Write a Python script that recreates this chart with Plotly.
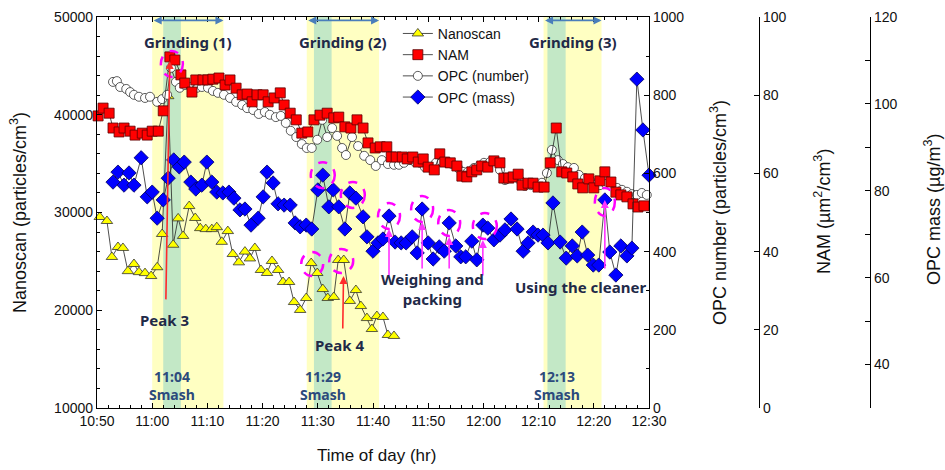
import plotly.graph_objects as go
import pandas as pd

BASE = pd.Timestamp("2024-01-01 10:50:00")

# ---------------- data (minutes after 10:50, values) ----------------
nano_min = [0.5, 1.8, 2.7, 3.8, 4.7, 5.6, 6.7, 7.6, 8.7, 9.8,
            10.9, 11.8, 12.9, 13.8, 14.7, 15.6, 16.7, 17.8, 18.7, 19.7,
            20.8, 21.7, 22.6, 23.7, 24.6, 25.7, 26.8, 27.7, 28.6, 29.7,
            30.8, 31.7, 32.8, 33.7, 34.8, 35.7, 36.8, 37.9, 38.8, 39.9,
            40.9, 41.8, 42.9, 43.7, 44.7, 45.8, 46.9, 47.8, 48.9, 49.8,
            50.7, 51.8, 52.7, 53.8]
nano_val = [29540, 29130, 25450, 26470, 26370, 24000, 24730, 23900, 23800, 23500,
            24400, 27800, 41900, 26700, 29400, 27600, 30660, 29440, 28400, 28300,
            28300, 28500, 27000, 28100, 25750, 24900, 26000, 25300, 26370, 24120,
            23810, 25040, 24120, 22890, 22890, 20840, 20030, 21250, 24830, 23810,
            22170, 21250, 21360, 25140, 25140, 20950, 22070, 20430, 19200, 18080,
            19410, 19310, 17470, 17370]

nam_min = [0.2, 1.1, 2.2, 2.9, 4.0, 4.9, 6.0, 6.9, 8.2, 9.1,
           10.0, 11.1, 12.0, 13.2, 14.1, 15.2, 15.9, 17.2, 17.9, 19.2,
           20.1, 21.0, 22.1, 23.2, 24.1, 25.2, 26.3, 27.2, 28.1, 29.0,
           30.1, 31.0, 32.1, 33.2, 33.9, 35.0, 36.1, 37.1, 38.2, 39.3,
           40.4, 41.7, 42.9, 43.8, 44.9, 46.0, 47.1, 48.2, 49.1, 50.4,
           51.3, 52.5, 53.3, 54.2, 55.3, 56.2, 57.2, 58.2, 59.1, 60.0,
           61.1, 62.1, 63.0, 64.0, 65.2, 66.1, 67.0, 67.9, 68.8, 69.7,
           70.8, 71.9, 73.0, 73.7, 74.6, 75.4, 76.3, 77.0, 78.1, 79.0,
           79.9, 81.0, 82.1, 83.2, 84.2, 85.1, 86.2, 87.1, 88.0, 89.1,
           90.0, 91.1, 92.0, 93.1, 94.0, 94.9, 96.0, 97.1, 98.0, 99.1]
nam_val = [74.7, 76.7, 75.4, 71.6, 70.6, 71.6, 70.8, 69.8, 70.3, 69.8,
           70.8, 70.8, 76.0, 89.8, 89.0, 85.2, 83.1, 80.8, 83.9, 83.9,
           83.9, 84.1, 84.4, 82.6, 83.9, 81.8, 80.1, 80.3, 78.3, 80.1,
           80.1, 78.3, 79.3, 80.6, 77.5, 75.4, 73.7, 70.3, 70.6, 73.7,
           74.9, 75.4, 74.2, 74.4, 71.9, 71.6, 73.7, 71.6, 67.8, 66.5,
           66.8, 66.8, 64.2, 64.2, 64.2, 63.7, 64.2, 62.9, 63.7, 61.6,
           60.9, 65.0, 62.9, 62.7, 61.9, 59.3, 59.1, 60.4, 60.9, 61.9,
           61.6, 63.2, 62.7, 58.8, 58.8, 59.1, 59.8, 57.0, 57.5, 57.5,
           56.5, 56.5, 62.7, 71.6, 60.4, 60.1, 59.1, 57.3, 56.3, 58.6,
           56.3, 58.1, 60.4, 57.8, 55.2, 54.5, 54.0, 52.2, 51.4, 51.7]

opcn_min = [2.9, 3.6, 4.2, 5.3, 6.0, 6.7, 7.6, 8.7, 9.6, 10.9,
            11.8, 12.7, 13.4, 14.3, 15.0, 15.9, 17.0, 18.1, 19.0, 20.1,
            21.0, 21.9, 23.0, 24.1, 25.2, 26.3, 27.2, 28.3, 29.3, 30.4,
            31.3, 32.4, 33.3, 34.2, 35.1, 36.1, 37.1, 38.0, 38.9, 39.9,
            40.8, 41.7, 42.6, 43.5, 44.4, 45.1, 46.2, 47.3, 48.4, 49.5,
            50.5, 51.6, 52.7, 53.8, 54.7, 55.6, 56.7, 57.6, 58.5, 59.4,
            60.5, 61.4, 62.5, 63.4, 64.3, 65.4, 66.3, 67.2, 68.3, 69.2,
            70.1, 71.2, 72.1, 73.0, 73.9, 74.8, 75.7, 76.6, 77.5, 78.6,
            79.5, 80.6, 81.5, 82.4, 83.5, 84.4, 85.3, 86.4, 87.3, 88.4,
            89.3, 90.2, 91.1, 92.2, 93.1, 94.2, 95.1, 96.0, 96.9, 97.8,
            98.7, 99.6]
opcn_val = [834, 836, 821, 816, 808, 801, 796, 793, 796, 783,
            790, 801, 870, 834, 819, 826, 821, 819, 821, 819,
            811, 806, 801, 793, 783, 775, 767, 762, 752, 757,
            750, 744, 747, 729, 709, 693, 675, 665, 665, 686,
            737, 693, 716, 696, 665, 647, 693, 670, 645, 634,
            619, 634, 624, 622, 622, 627, 634, 629, 627, 616,
            614, 627, 629, 627, 624, 614, 604, 604, 614, 619,
            627, 629, 632, 609, 583, 588, 591, 583, 568, 570,
            570, 576, 601, 660, 634, 624, 616, 614, 596, 588,
            583, 570, 570, 573, 570, 563, 558, 553, 547, 545,
            550, 545]

opcm_min = [2.9, 3.8, 4.9, 5.8, 6.7, 8.0, 9.1, 10.0, 10.9, 12.0,
            12.9, 13.9, 14.9, 15.8, 17.0, 17.9, 19.0, 19.9, 20.8, 21.7,
            22.8, 23.9, 24.8, 25.9, 26.8, 27.9, 29.2, 30.1, 30.8, 31.9,
            32.8, 33.9, 35.0, 35.9, 36.8, 37.9, 38.9, 40.0, 40.9, 42.0,
            42.8, 43.8, 44.9, 45.8, 46.9, 48.2, 48.9, 50.0, 50.9, 51.8,
            52.9, 54.0, 55.1, 56.0, 57.1, 58.0, 58.9, 60.0, 60.9, 62.0,
            62.9, 63.8, 65.0, 65.9, 66.8, 67.9, 68.8, 69.9, 70.8, 71.9,
            73.0, 73.9, 75.0, 76.1, 77.2, 78.1, 79.0, 79.9, 80.8, 81.7,
            82.6, 83.9, 85.0, 86.1, 87.0, 87.9, 88.9, 89.9, 90.9, 92.0,
            92.9, 94.0, 94.9, 96.0, 96.9, 97.8, 98.9, 100.0]
opcm_val = [82.0, 84.3, 81.3, 84.1, 81.3, 87.6, 78.6, 79.7, 73.7, 77.9,
            82.9, 87.1, 85.5, 86.6, 82.0, 80.4, 81.3, 86.6, 82.0, 79.7,
            79.5, 79.7, 78.3, 75.6, 75.8, 72.1, 73.7, 78.6, 84.3, 81.8,
            77.0, 76.7, 76.7, 72.6, 71.7, 72.1, 71.2, 80.2, 83.6, 76.3,
            80.2, 76.3, 71.2, 79.5, 78.3, 74.0, 69.4, 66.1, 68.0, 68.9,
            74.2, 68.2, 68.0, 68.0, 69.4, 65.7, 75.8, 68.0, 64.3, 67.1,
            66.1, 72.6, 67.3, 64.8, 64.8, 68.4, 64.1, 72.1, 71.4, 68.7,
            69.8, 71.0, 73.5, 71.2, 66.1, 68.0, 70.5, 69.8, 69.8, 68.0,
            77.2, 68.2, 64.5, 67.3, 65.0, 70.5, 65.2, 62.9, 62.9, 77.9,
            65.9, 60.6, 67.3, 65.0, 66.8, 105.7, 94.0, 83.6]

# event periods (minutes after 10:50)
grind_start = [10.0, 38.0, 80.9]
grind_end = [22.9, 51.1, 91.4]
smash_start = [12.0, 39.3, 81.6]
smash_end = [15.2, 42.5, 84.9]
grind_labels = ["Grinding (1)", "Grinding (2)", "Grinding (3)"]
smash_times = ["11:04", "11:29", "12:13"]

x_ticks_min = [0, 10, 20, 30, 40, 50, 60, 70, 80, 90, 100]


def ts(m):
    return (BASE + pd.Timedelta(minutes=m)).round("s").strftime("%Y-%m-%d %H:%M:%S")


def tl(ms):
    return [ts(m) for m in ms]


TEXT = "#1f2a48"
SMASH = "#2c4a7c"
AX_FONT = "Liberation Sans, Arial, sans-serif"
ANN_FONT = "Noto Sans, DejaVu Sans, sans-serif"
LINE = dict(color="#222222", width=0.8)

fig = go.Figure()
fig.add_trace(go.Scatter(
    x=tl(nano_min), y=nano_val, name="Nanoscan", yaxis="y", mode="lines+markers",
    line=LINE, cliponaxis=False, legendrank=1,
    marker=dict(symbol="triangle-up", size=10, color="#ffff00", line=dict(color="#333333", width=0.8))))
fig.add_trace(go.Scatter(
    x=tl(opcn_min), y=opcn_val, name="OPC (number)", yaxis="y2", mode="lines+markers",
    line=LINE, cliponaxis=False, legendrank=3,
    marker=dict(symbol="circle", size=9, color="white", line=dict(color="#333333", width=0.8))))
fig.add_trace(go.Scatter(
    x=tl(nam_min), y=nam_val, name="NAM", yaxis="y3", mode="lines+markers",
    line=LINE, cliponaxis=False, legendrank=2,
    marker=dict(symbol="square", size=10, color="#ff0000", line=dict(color="#5a0000", width=0.8))))
fig.add_trace(go.Scatter(
    x=tl(opcm_min), y=opcm_val, name="OPC (mass)", yaxis="y4", mode="lines+markers",
    line=LINE, cliponaxis=False, legendrank=4,
    marker=dict(symbol="diamond", size=11, color="#0000ff", line=dict(color="#000060", width=0.8))))

shapes = []
annotations = []

# shaded periods
for g0, g1, s0, s1 in zip(grind_start, grind_end, smash_start, smash_end):
    shapes.append(dict(type="rect", xref="x", yref="y domain", x0=ts(g0), x1=ts(g1), y0=0, y1=1,
                       fillcolor="#ffffc2", line=dict(width=0), layer="below"))
    shapes.append(dict(type="rect", xref="x", yref="y domain", x0=ts(s0), x1=ts(s1), y0=0, y1=1,
                       fillcolor="#c3e8c6", line=dict(width=0), layer="below"))


def label(x, y, text, size=15, color=TEXT, xref="x"):
    return dict(x=x, y=y, xref=xref, yref="paper", text=text, showarrow=False,
                xanchor="center", yanchor="middle",
                font=dict(family=ANN_FONT, size=size, color=color))


# grinding arrows and labels
for g0, g1, lab in zip(grind_start, grind_end, grind_labels):
    annotations.append(dict(x=ts(g1), y=49650, xref="x", yref="y", ax=ts(g0), ay=49650,
                            axref="x", ayref="y", showarrow=True, arrowhead=2, arrowside="end+start",
                            arrowsize=1, arrowwidth=1.6, arrowcolor="#4a7ebb", text=""))
    annotations.append(label(ts((g0 + g1) / 2), 1 - 42 / 470, "<b>" + lab + "</b>"))

for s0, s1, lab in zip(smash_start, smash_end, smash_times):
    annotations.append(label(ts((s0 + s1) / 2), 1 - 385 / 470, "<b>" + lab + "<br>Smash</b>",
                             size=14, color=SMASH))

# magenta dashed circles around highlighted points
series = {"nano": (nano_min, nano_val, "y"), "nam": (nam_min, nam_val, "y3"),
          "mass": (opcm_min, opcm_val, "y4")}
circles = [("nam", 13, 2, -7, 11, 13), ("nano", 38, 1, -1, 11, 12), ("nano", 43, 3, -1, 12, 12),
           ("mass", 38, 0, 0, 12, 13), ("mass", 43, 3, -2, 12, 13), ("mass", 50, 0, 0, 11, 13),
           ("mass", 56, 0, 0, 11, 13), ("mass", 61, 0, 0, 11, 13), ("mass", 67, 2, -1, 12, 13),
           ("mass", 89, 0, -2, 10, 14)]
for key, i, dx, dy, rx, ry in circles:
    ms, vs, ax_id = series[key]
    shapes.append(dict(type="circle", xref="x", yref=ax_id, xsizemode="pixel", ysizemode="pixel",
                       xanchor=ts(ms[i]), yanchor=vs[i], x0=dx - rx, x1=dx + rx, y0=dy - ry, y1=dy + ry,
                       line=dict(color="#ff00ff", width=2.5, dash="dash")))

# magenta arrows (weighing / cleaner)
for i, tail, so in [(50, 61, 13), (56, 61, 13), (61, 47, 14), (67, 52, 15), (89, 70, 0)]:
    annotations.append(dict(x=ts(opcm_min[i]), y=opcm_val[i], xref="x", yref="y4", ax=0, ay=tail,
                            showarrow=True, arrowhead=2, arrowsize=1, arrowwidth=1.6, standoff=so,
                            arrowcolor="#ff33ff", text=""))

# red arrows for peaks
annotations.append(dict(x=ts(nam_min[13]), y=nam_val[13], xref="x", yref="y3", ax=-4, ay=244,
                        showarrow=True, arrowhead=2, arrowsize=1, arrowwidth=1.6, standoff=4,
                        arrowcolor="#ff2a2a", text=""))
annotations.append(dict(x=ts(nano_min[44]), y=nano_val[44], xref="x", yref="y", ax=-1, ay=70,
                        showarrow=True, arrowhead=2, arrowsize=1, arrowwidth=1.6, standoff=16,
                        arrowcolor="#ff2a2a", text=""))

# text labels
annotations += [
    label(ts(12.3), 1 - 320 / 470, "<b>Peak 3</b>"),
    label(ts(44.0), 1 - 345 / 470, "<b>Peak 4</b>"),
    label(ts(60.7), 1 - 289 / 470, "<b>Weighing and<br>packing</b>"),
    label(ts(87.5), 1 - 287 / 470, "<b>Using the cleaner</b>"),
]


def title(x, y, text, angle=-90, size=18):
    return dict(x=x / 945, y=1 - y / 470, xref="paper", yref="paper", text=text, textangle=angle,
                showarrow=False, xanchor="center", yanchor="middle",
                font=dict(family=AX_FONT, size=size, color="#111111"))


annotations += [
    title(18, 213, "Nanoscan (particles/cm<sup>3</sup>)"),
    title(718, 213, "OPC number (particles/cm<sup>3</sup>)"),
    title(822, 212, "NAM (µm<sup>2</sup>/cm<sup>3</sup>)"),
    title(932, 210, "OPC mass (µg/m<sup>3</sup>)"),
    title(376, 455, "Time of day (hr)", angle=0, size=17),
]

TICKF = dict(family=AX_FONT, size=14, color="#111111")
common_y = dict(showline=True, linecolor="black", linewidth=1.3, ticks="inside", ticklen=5,
                tickcolor="black", tickwidth=1, showgrid=False, zeroline=False, tickfont=TICKF,
                automargin=False)

fig.update_layout(
    width=945, height=470,
    margin=dict(l=0, r=0, t=0, b=0, autoexpand=False),
    paper_bgcolor="white", plot_bgcolor="rgba(0,0,0,0)",
    showlegend=True,
    legend=dict(x=0.421, y=0.962, xanchor="left", yanchor="top", bgcolor="rgba(0,0,0,0)",
                font=dict(family=AX_FONT, size=14, color="#111111"), tracegroupgap=0),
    xaxis=dict(domain=[97 / 945, 649 / 945], type="date", automargin=False,
               range=[ts(x_ticks_min[0]), ts(x_ticks_min[-1])],
               tickvals=tl(x_ticks_min), tickformat="%H:%M",
               showline=True, linecolor="black", linewidth=1.3, mirror="ticks",
               ticks="inside", ticklen=5, tickcolor="black", showgrid=False, zeroline=False,
               minor=dict(dtick=120000, tick0=ts(0), ticks="inside", ticklen=3, tickcolor="black", showgrid=False),
               tickfont=dict(family=AX_FONT, size=14, color="#111111")),
    yaxis=dict(domain=[62 / 470, 453 / 470], range=[10000, 50000], dtick=10000, tickformat="d",
               minor=dict(dtick=2000, ticks="inside", ticklen=3, tickcolor="black", showgrid=False),
               **common_y),
    yaxis2=dict(overlaying="y", anchor="x", side="right", range=[0, 1000], dtick=200, tickformat="d",
                minor=dict(dtick=100, ticks="inside", ticklen=3, tickcolor="black", showgrid=False),
                **common_y),
    yaxis3=dict(overlaying="y", anchor="free", position=759 / 945, side="right", range=[0, 100], dtick=20,
                **common_y),
    yaxis4=dict(overlaying="y", anchor="free", position=870 / 945, side="right", range=[30, 120],
                tick0=40, dtick=20,
                minor=dict(dtick=10, tick0=30, ticks="inside", ticklen=5, tickcolor="black", showgrid=False),
                **common_y),
    shapes=shapes,
    annotations=annotations,
)

fig.write_html("out.html", config={"displayModeBar": False},
               post_script="document.body.style.margin='0px';")
